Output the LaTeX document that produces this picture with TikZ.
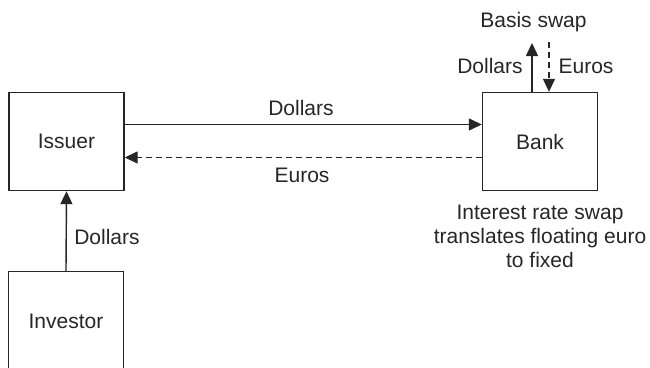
\documentclass[tikz,border=0pt]{standalone}
\usepackage{fontspec}
\setmainfont{Liberation Sans}
\usetikzlibrary{arrows.meta,calc}
\begin{document}
\begin{tikzpicture}[x=1pt,y=-1pt,
  every node/.style={font=\fontsize{21}{24}\selectfont, text=black!85},
  box/.style={draw=black!85, line width=1.4pt, minimum width=115pt, minimum height=98pt, inner sep=0pt},
  lbl/.style={inner sep=0pt},
  conn/.style={line width=1.4pt, draw=black!85, -{Triangle[length=13pt,width=12pt]}},
  dconn/.style={conn, dash pattern=on 6pt off 4pt}]
\useasboundingbox (0,0) rectangle (650,367);
\clip (0,0) rectangle (650,367);
\node[box] (iss) at (66.5,141.5) {Issuer};
\node[box] (bank) at (540,141.5) {Bank};
\node[box, minimum height=120pt, text depth=0pt] (inv) at (66,331.5) {};
\node[lbl] (invt) at (66,321) {Investor};
% Issuer <-> Bank
\draw[conn] ($(iss.east)+(0,-17)$) -- ($(bank.west)+(0,-17)$);
\draw[dconn] ($(bank.west)+(0,16)$) -- ($(iss.east)+(0,16)$);
\node[lbl] (d1) at (301,108) {Dollars};
\node[lbl] (e1) at (302,175) {Euros};
% Investor -> Issuer
\draw[conn] (inv.north) -- (iss.south);
\node[lbl] (d2) at (107,237) {Dollars};
% Basis swap
\coordinate (up) at (532,43);
\coordinate (dn) at (549,42);
\draw[conn] (bank.north -| up) -- (up);
\draw[dconn] (dn) -- (bank.north -| dn);
\node[lbl] (bs) at (533.5,22) {Basis swap};
\node[lbl] (d3) at (490,66) {Dollars};
\node[lbl] (e3) at (586,66) {Euros};
% Caption
\node[lbl, align=center] (irs) at (540,236.5) {Interest rate swap\\translates floating euro\\to fixed};
\end{tikzpicture}
\end{document}
